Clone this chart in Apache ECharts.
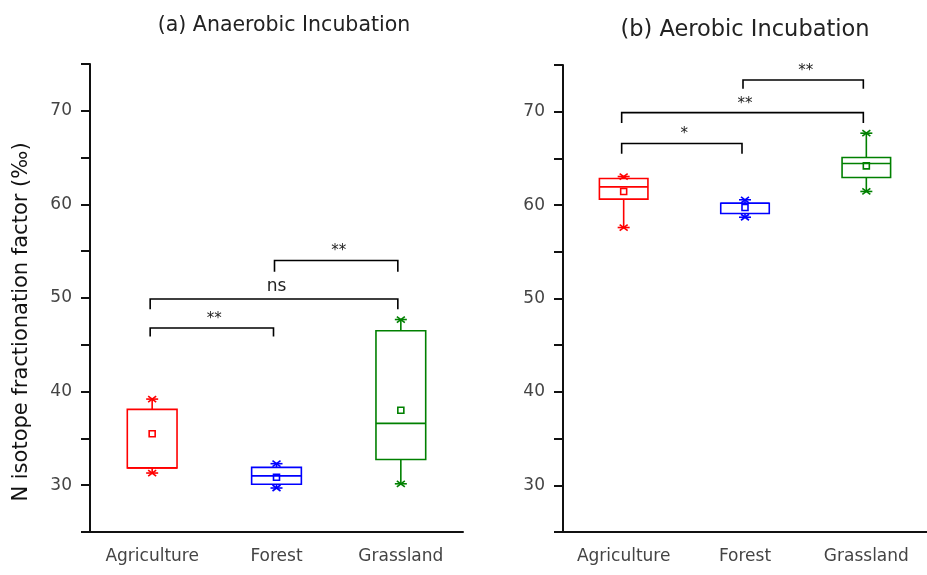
<!DOCTYPE html>
<html>
<head>
<meta charset="utf-8">
<script src="https://cdn.jsdelivr.net/npm/echarts@6/dist/echarts.min.js"></script>
<style>
  html, body { margin: 0; padding: 0; background: #fff; }
  #chart { width: 927px; height: 575px; }
</style>
</head>
<body>
<div id="chart"></div>
<script>
// categories + box stats
var categories = ['Agriculture', 'Forest', 'Grassland'];
var colors = ['#ff0000', '#0000ff', '#008000'];

// (a) anaerobic
var anMin    = [31.3, 29.7, 30.15];
var anQ1     = [31.85, 30.1, 32.75];
var anMedian = [31.85, 31.0, 36.6];
var anQ3     = [38.1, 31.9, 46.5];
var anMax    = [39.2, 32.3, 47.7];
var anMean   = [35.5, 30.85, 38.0];

// (b) aerobic
var aeMin    = [57.6, 58.7, 61.46];
var aeQ1     = [60.64, 59.1, 62.96];
var aeMedian = [61.95, 60.2, 64.45];
var aeQ3     = [62.85, 60.2, 65.1];
var aeMax    = [63.06, 60.57, 67.7];
var aeMean   = [61.46, 59.75, 64.2];

// significance brackets: [from, to, bar level, leg end, label]
var anBrackets = [
  [0, 1, 46.8, 45.9, '**'],
  [0, 2, 49.9, 48.8, 'ns'],
  [1, 2, 54.0, 52.8, '**']
];
var aeBrackets = [
  [0, 1, 66.6, 65.5, '*'],
  [0, 2, 69.9, 68.8, '**'],
  [1, 2, 73.4, 72.45, '**']
];

var yTicks = [30, 40, 50, 60, 70];

var FONT = '"DejaVu Sans", "Liberation Sans", sans-serif';

function boxRows(mn, q1, md, q3, mx, mean) {
  return categories.map(function (c, i) {
    return [i, mn[i], q1[i], md[i], q3[i], mx[i], mean[i]];
  });
}

function renderBox(params, api) {
  var i = api.value(0);
  var col = colors[i];
  var x = api.coord([i, 0])[0];
  var yMin = api.coord([i, api.value(1)])[1];
  var yQ1 = api.coord([i, api.value(2)])[1];
  var yMd = api.coord([i, api.value(3)])[1];
  var yQ3 = api.coord([i, api.value(4)])[1];
  var yMax = api.coord([i, api.value(5)])[1];
  var yMean = api.coord([i, api.value(6)])[1];
  var w = api.size([1, 0])[0] * 0.4;
  var st = { stroke: col, lineWidth: 1.6, fill: null };
  var kids = [
    { type: 'rect', shape: { x: x - w / 2, y: yQ3, width: w, height: yQ1 - yQ3 }, style: st },
    { type: 'line', shape: { x1: x - w / 2, y1: yMd, x2: x + w / 2, y2: yMd }, style: st },
    { type: 'line', shape: { x1: x, y1: yQ3, x2: x, y2: yMax }, style: st },
    { type: 'line', shape: { x1: x, y1: yQ1, x2: x, y2: yMin }, style: st },
    { type: 'rect', shape: { x: x - 3, y: yMean - 3, width: 6, height: 6 }, style: st }
  ];
  [yMin, yMax].forEach(function (yy) {
    kids.push({ type: 'line', shape: { x1: x - 6, y1: yy, x2: x + 6, y2: yy }, style: st });
    kids.push({ type: 'line', shape: { x1: x - 4, y1: yy - 3, x2: x + 4, y2: yy + 3 }, style: st });
    kids.push({ type: 'line', shape: { x1: x - 4, y1: yy + 3, x2: x + 4, y2: yy - 3 }, style: st });
  });
  return { type: 'group', children: kids };
}

function renderBracket(params, api) {
  var a = api.value(0), b = api.value(1);
  var lvl = api.value(2), leg = api.value(3);
  var p1 = api.coord([a, lvl]), p2 = api.coord([b, lvl]);
  var yLeg = api.coord([a, leg])[1];
  var lab = api.value(4);
  var st = { stroke: '#000', lineWidth: 1.6, fill: null };
  return {
    type: 'group',
    children: [
      { type: 'polyline', shape: { points: [[p1[0] - 2, yLeg], [p1[0] - 2, p1[1]], [p2[0] - 3, p1[1]], [p2[0] - 3, yLeg]] }, style: st },
      {
        type: 'text',
        style: {
          x: (p1[0] + p2[0]) / 2, y: p1[1] - (lab === 'ns' ? 12 : 9),
          text: lab, align: 'center', verticalAlign: 'middle',
          fill: '#222', font: (lab === 'ns' ? '17px ' : '15px ') + FONT
        }
      }
    ]
  };
}

function xAxisFor(gi) {
  return {
    type: 'category', gridIndex: gi, data: categories, boundaryGap: true,
    axisLine: { lineStyle: { color: '#111', width: 2 } },
    axisTick: { alignWithLabel: true, interval: 0, length: 8, lineStyle: { color: '#111', width: 2 } },
    axisLabel: { interval: 0, hideOverlap: false, color: '#444', fontSize: 17, fontFamily: FONT, margin: 16 },
    splitLine: { show: false }
  };
}

function yAxisFor(gi) {
  return {
    type: 'value', gridIndex: gi, min: 25, max: 75, interval: 5,
    axisLine: { show: true, lineStyle: { color: '#111', width: 2 } },
    axisTick: { show: true, length: 9, lineStyle: { color: '#111', width: 2 } },
    axisLabel: {
      color: '#444', fontSize: 17, fontFamily: FONT, margin: 18,
      formatter: function (v) { return yTicks.indexOf(v) >= 0 ? String(v) : ''; }
    },
    splitLine: { show: false }
  };
}

var chart = echarts.init(document.getElementById('chart'));
chart.setOption({
  backgroundColor: '#fff',
  animation: false,
  title: [
    { text: '(a) Anaerobic Incubation', left: 279, top: 10, textAlign: 'center',
      textStyle: { fontSize: 20.5, fontWeight: 'normal', color: '#222', fontFamily: FONT } },
    { text: '(b) Aerobic Incubation', left: 740, top: 14, textAlign: 'center',
      textStyle: { fontSize: 22.5, fontWeight: 'normal', color: '#222', fontFamily: FONT } }
  ],
  graphic: [{
    type: 'text', x: 22, y: 322, rotation: Math.PI / 2,
    style: {
      text: 'N isotope fractionation factor (‰)', align: 'center', verticalAlign: 'middle',
      fill: '#111', font: '21px ' + FONT
    }
  }],
  grid: [
    { left: 90, top: 64, width: 373, height: 468 },
    { left: 563, top: 65, width: 370, height: 467 }
  ],
  xAxis: [xAxisFor(0), xAxisFor(1)],
  yAxis: [yAxisFor(0), yAxisFor(1)],
  series: [
    { type: 'custom', xAxisIndex: 0, yAxisIndex: 0, renderItem: renderBox,
      data: boxRows(anMin, anQ1, anMedian, anQ3, anMax, anMean) },
    { type: 'custom', xAxisIndex: 1, yAxisIndex: 1, renderItem: renderBox,
      data: boxRows(aeMin, aeQ1, aeMedian, aeQ3, aeMax, aeMean) },
    { type: 'custom', xAxisIndex: 0, yAxisIndex: 0, renderItem: renderBracket,
      dimensions: ['a', 'b', 'lvl', 'leg', { name: 'lab', type: 'ordinal' }], data: anBrackets },
    { type: 'custom', xAxisIndex: 1, yAxisIndex: 1, renderItem: renderBracket,
      dimensions: ['a', 'b', 'lvl', 'leg', { name: 'lab', type: 'ordinal' }], data: aeBrackets }
  ]
});
</script>
</body>
</html>
